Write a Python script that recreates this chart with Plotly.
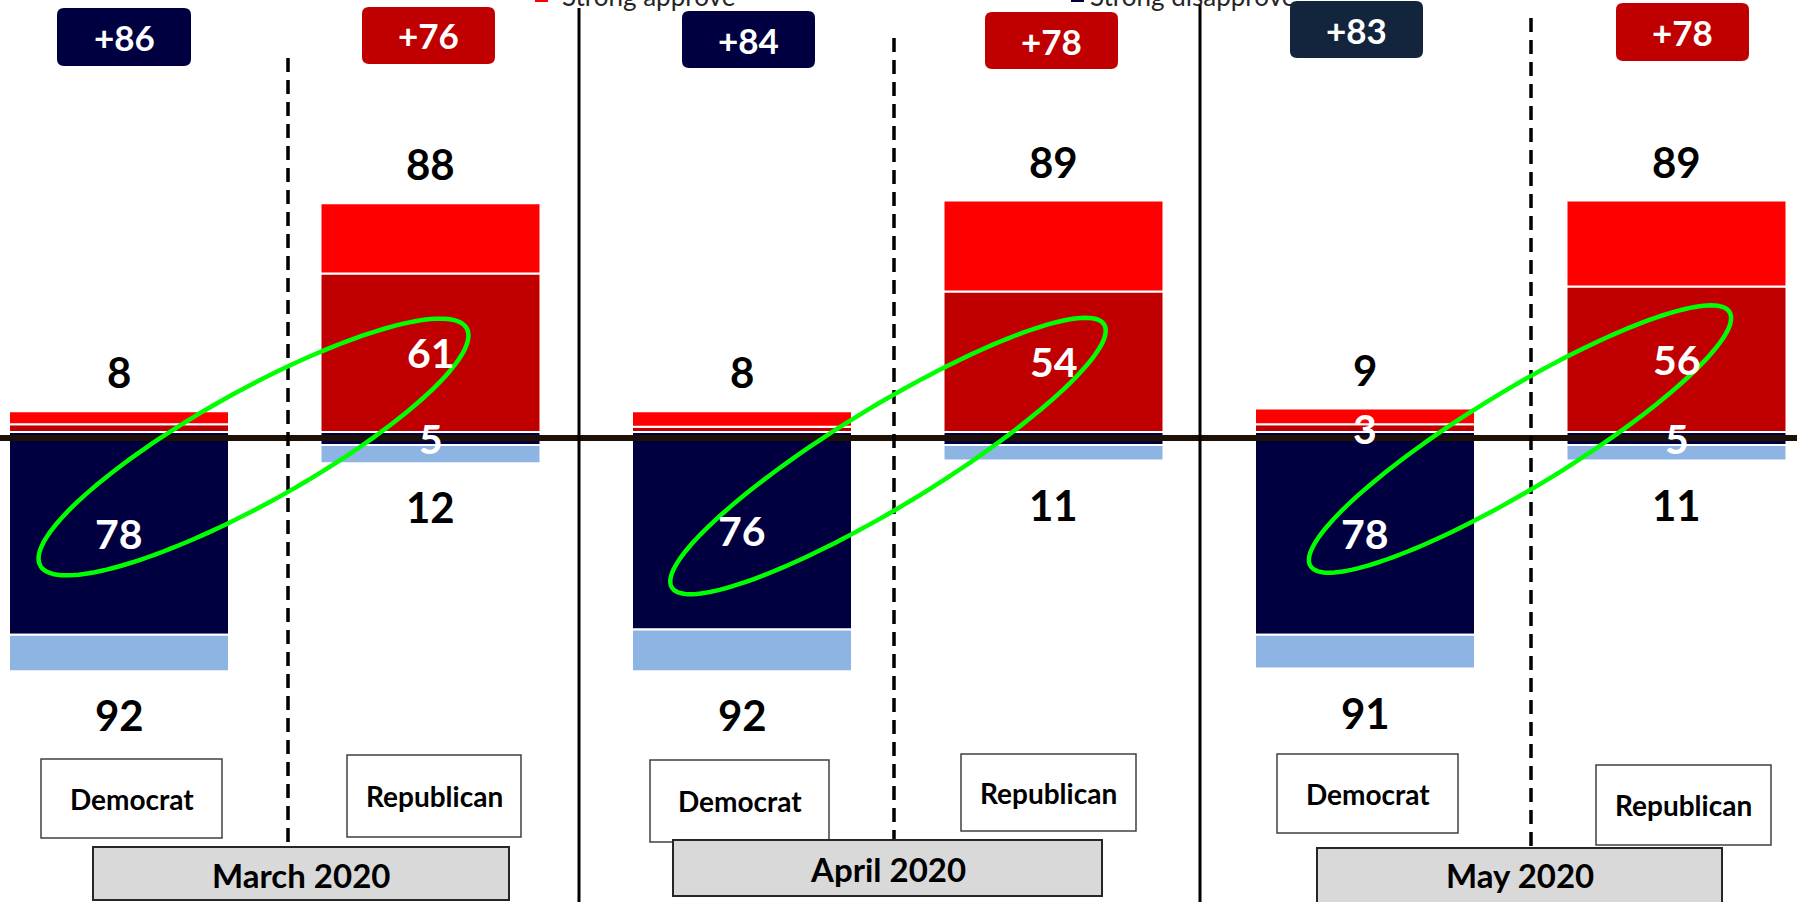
import numpy as np
import plotly.graph_objects as go

# ---- data ----
months = ["March 2020", "April 2020", "May 2020"]
parties = ["Democrat", "Republican"]
strong_approve = [3, 61, 2, 54, 3, 56]
somewhat_approve = [5, 27, 6, 35, 6, 33]
strong_disapprove = [78, 5, 76, 5, 78, 5]
somewhat_disapprove = [14, 7, 16, 6, 13, 6]
net_labels = ["+86", "+76", "+84", "+78", "+83", "+78"]
show_sa_label = [False, True, False, True, True, True]
show_sd_label = [True, True, True, False, True, True]

W, H = 1797, 902
ZERO_PX, PX_PER_UNIT = 432, 2.6
X0_PX, STEP_PX = 119, 311.5
BAR_W = 220 / STEP_PX

C_DARKRED, C_RED = "#c00000", "#ff0000"
C_NAVY, C_LIGHTBLUE = "#000040", "#8eb4e3"
FONT = "Lato"

n = len(strong_approve)
x = list(range(n))
approve_tot = [a + b for a, b in zip(strong_approve, somewhat_approve)]
disapprove_tot = [a + b for a, b in zip(strong_disapprove, somewhat_disapprove)]


def px(xp, yp):
    # pixel position -> paper coords
    return xp / W, 1 - yp / H


def rounded_rect(x0, y0, x1, y1, r):
    pts = [("M", x0 + r, y0), ("L", x1 - r, y0), ("Q", x1, y0, x1, y0 + r),
           ("L", x1, y1 - r), ("Q", x1, y1, x1 - r, y1), ("L", x0 + r, y1),
           ("Q", x0, y1, x0, y1 - r), ("L", x0, y0 + r), ("Q", x0, y0, x0 + r, y0)]
    s = ""
    for p in pts:
        cmd, coords = p[0], p[1:]
        xy = []
        for i in range(0, len(coords), 2):
            a, b = px(coords[i], coords[i + 1])
            xy.append(f"{a:.5f},{b:.5f}")
        s += cmd + " " + " ".join(xy) + " "
    return s + "Z"


def ellipse_path(cx, cy, a, b, deg):
    t = np.linspace(0, 2 * np.pi, 160)
    th = np.radians(deg)
    ex = cx + a * np.cos(t) * np.cos(th) + b * np.sin(t) * np.sin(th)
    ey = cy - a * np.cos(t) * np.sin(th) + b * np.sin(t) * np.cos(th)
    parts = []
    for i, (u, v) in enumerate(zip(ex, ey)):
        a_, b_ = px(u, v)
        parts.append(("M " if i == 0 else "L ") + f"{a_:.5f},{b_:.5f}")
    return " ".join(parts) + " Z"


def paper_text(xp, yp, text, font):
    a, b = px(xp, yp)
    return dict(xref="paper", yref="paper", x=a, y=b, text=text, showarrow=False,
                xanchor="center", yanchor="middle", font=font)


fig = go.Figure()
line_w = dict(color="white", width=2)
fig.add_trace(go.Bar(x=x, y=strong_approve, width=BAR_W, name="Strong approve",
                     marker=dict(color=C_DARKRED, line=line_w)))
fig.add_trace(go.Bar(x=x, y=somewhat_approve, width=BAR_W, name="Somewhat approve",
                     marker=dict(color=C_RED, line=line_w)))
fig.add_trace(go.Bar(x=x, y=[-v for v in strong_disapprove], width=BAR_W, name="Strong disapprove",
                     marker=dict(color=C_NAVY, line=line_w)))
fig.add_trace(go.Bar(x=x, y=[-v for v in somewhat_disapprove], width=BAR_W, name="Somewhat disapprove",
                     marker=dict(color=C_LIGHTBLUE, line=line_w)))

ann = []
shapes = []
bold = dict(family=FONT, weight="bold")

# totals above / below the bars, and labels inside the strong segments
for i in range(n):
    ann.append(dict(x=i, y=approve_tot[i], text=str(approve_tot[i]), yshift=39, showarrow=False,
                    font=dict(**bold, size=42, color="black")))
    ann.append(dict(x=i, y=-disapprove_tot[i], text=str(disapprove_tot[i]), yshift=-44, showarrow=False,
                    font=dict(**bold, size=42, color="black")))
    if show_sa_label[i]:
        ann.append(dict(x=i, y=strong_approve[i] / 2, text=str(strong_approve[i]), showarrow=False,
                        font=dict(**bold, size=41, color="white")))
    if show_sd_label[i]:
        ann.append(dict(x=i, y=-strong_disapprove[i] / 2, text=str(strong_disapprove[i]), showarrow=False,
                        font=dict(**bold, size=41, color="white")))

# zero line (drawn a few px below zero, over the bars)
shapes.append(dict(type="line", xref="paper", x0=0, x1=1, yref="y", ysizemode="pixel", yanchor=0,
                   y0=-6, y1=-6, line=dict(color="#1f1005", width=6)))

# separators
for xp, y_top in [(579, 8), (1200, 4)]:
    a, b0 = px(xp, y_top)
    shapes.append(dict(type="line", xref="paper", yref="paper", x0=a, x1=a, y0=b0, y1=0,
                       line=dict(color="black", width=3)))
for xp, y_top, y_bot in [(288, 58, 847), (894, 38, 840), (1531, 18, 848)]:
    a, b0 = px(xp, y_top)
    _, b1 = px(xp, y_bot)
    shapes.append(dict(type="line", xref="paper", yref="paper", x0=a, x1=a, y0=b0, y1=b1,
                       line=dict(color="black", width=3.5, dash="14px,8px")))

# net badges
badge_boxes = [(57, 8, 191, 66), (362, 7, 495, 64), (682, 11, 815, 68),
               (985, 12, 1118, 69), (1290, 1, 1423, 58), (1616, 3, 1749, 61)]
badge_cols = [C_NAVY, C_DARKRED, C_NAVY, C_DARKRED, "#13243d", C_DARKRED]
for (x0, y0, x1, y1), col, txt in zip(badge_boxes, badge_cols, net_labels):
    shapes.append(dict(type="path", xref="paper", yref="paper", path=rounded_rect(x0, y0, x1, y1, 7),
                       fillcolor=col, line=dict(width=0)))
    ann.append(paper_text((x0 + x1) / 2, (y0 + y1) / 2, txt, dict(**bold, size=35, color="white")))

# party boxes
party_boxes = [(41, 759, 222, 838), (347, 755, 521, 837), (650, 760, 829, 842),
               (961, 754, 1136, 831), (1277, 754, 1458, 833), (1596, 765, 1771, 845)]
for i, (x0, y0, x1, y1) in enumerate(party_boxes):
    a0, b0 = px(x0, y0)
    a1, b1 = px(x1, y1)
    shapes.append(dict(type="rect", xref="paper", yref="paper", x0=a0, x1=a1, y0=b0, y1=b1,
                       fillcolor="white", line=dict(color="#404040", width=1.5)))
    ann.append(paper_text((x0 + x1) / 2, (y0 + y1) / 2, parties[i % 2], dict(**bold, size=28, color="black")))

# month boxes
month_boxes = [(93, 847, 509, 900), (673, 840, 1102, 896), (1317, 848, 1722, 906)]
for m, (x0, y0, x1, y1) in zip(months, month_boxes):
    a0, b0 = px(x0, y0)
    a1, b1 = px(x1, y1)
    shapes.append(dict(type="rect", xref="paper", yref="paper", x0=a0, x1=a1, y0=b0, y1=b1,
                       fillcolor="#d9d9d9", line=dict(color="#262626", width=2)))
    ann.append(paper_text((x0 + x1) / 2, (y0 + min(y1, 900)) / 2 + 1, m, dict(**bold, size=33, color="black")))

# green ellipses
for cx, cy, a, b, deg in [(253.5, 447, 244, 56, 29.1), (888, 456, 253, 50, 31.3), (1520, 439, 245, 49, 31.2)]:
    shapes.append(dict(type="path", xref="paper", yref="paper", path=ellipse_path(cx, cy, a, b, deg),
                       line=dict(color="#00ff00", width=4.5)))

# legend remnants cut off at the top
for mx, tx, txt, col in [(535, 648, "Strong approve", C_RED), (1071, 1192, "Strong disapprove", C_NAVY)]:
    a0, b0 = px(mx, -10)
    a1, b1 = px(mx + 13, 2)
    shapes.append(dict(type="rect", xref="paper", yref="paper", x0=a0, x1=a1, y0=b0, y1=b1,
                       fillcolor=col, line=dict(width=0)))
    ann.append(paper_text(tx, -4, txt, dict(family=FONT, size=26, color="#262626")))

fig.update_layout(
    width=W, height=H,
    barmode="relative",
    showlegend=False,
    margin=dict(l=0, r=0, t=0, b=0, autoexpand=False),
    paper_bgcolor="white", plot_bgcolor="white",
    xaxis=dict(range=[-X0_PX / STEP_PX, (W - X0_PX) / STEP_PX], visible=False, fixedrange=True),
    yaxis=dict(range=[-(H - ZERO_PX) / PX_PER_UNIT, ZERO_PX / PX_PER_UNIT], visible=False, fixedrange=True),
    shapes=shapes,
    annotations=ann,
)

fig.write_html("out.html", config={"displayModeBar": False},
               post_script="document.body.style.margin='0';document.body.style.overflow='hidden';")
